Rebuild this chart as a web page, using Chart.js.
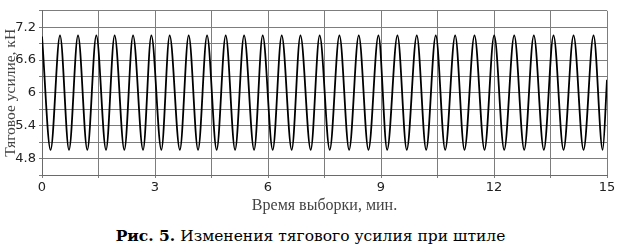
<!DOCTYPE html>
<html>
<head>
<meta charset="utf-8">
<script src="https://cdn.jsdelivr.net/npm/chart.js@4"></script>
<style>
  body { margin: 0; background: #fff; }
  #wrap { position: relative; width: 621px; height: 249px; }
  #box { position: absolute; left: 0; top: 0; width: 621px; height: 215px; }
  #caption {
    position: absolute; left: 0; top: 227px; width: 621px; text-align: center;
    font-family: "DejaVu Serif", serif; font-size: 15.5px; color: #000; line-height: 18px;
  }
</style>
</head>
<body>
<div id="wrap">
  <div id="box"><canvas id="grafico"></canvas></div>
  <div id="caption"><b>Рис. 5.</b> Изменения тягового усилия при штиле</div>
</div>
<script>
// время, мин (пики и впадины)
const tempo = [
  0, 0.228, 0.478, 0.717, 0.956, 1.203, 1.442, 1.700, 1.928, 2.186,
  2.417, 2.683, 2.903, 3.169, 3.389, 3.660, 3.894, 4.143, 4.382, 4.637,
  4.877, 5.126, 5.365, 5.631, 5.859, 6.125, 6.364, 6.629, 6.861, 7.134,
  7.371, 7.639, 7.896, 8.154, 8.409, 8.667, 8.932, 9.163, 9.437, 9.684,
  9.950, 10.199, 10.454, 10.704, 10.969, 11.216, 11.482, 11.748, 12.005, 12.271,
  12.537, 12.802, 13.057, 13.323, 13.580, 13.846, 14.112, 14.377, 14.643, 14.885,
  15
];
// тяговое усилие, кН
const forca = [
  7.03, 4.96, 7.05, 4.96, 7.05, 4.96, 7.05, 4.96, 7.05, 4.96,
  7.05, 4.96, 7.05, 4.96, 7.05, 4.96, 7.05, 4.96, 7.05, 4.96,
  7.05, 4.96, 7.05, 4.96, 7.05, 4.96, 7.05, 4.96, 7.05, 4.96,
  7.05, 4.96, 7.05, 4.96, 7.05, 4.96, 7.05, 4.96, 7.05, 4.96,
  7.05, 4.96, 7.05, 4.96, 7.05, 4.96, 7.05, 4.96, 7.05, 4.96,
  7.05, 4.96, 7.05, 4.96, 7.05, 4.96, 7.05, 4.96, 7.05, 4.96,
  6.24
];
const rotulosX = ['0', '3', '6', '9', '12', '15'];
const rotulosY = ['4.8', '5.4', '6', '6.6', '7.2'];

const pontos = tempo.map(function (t, i) { return { x: t, y: forca[i] }; });

function achaRotulo(lista, v) {
  for (let r of lista) {
    if (Math.abs(parseFloat(r) - v) < 1e-6) return r;
  }
  return '';
}

const corGrade = '#7d7d7d';

const config = {
  type: 'line',
  data: {
    datasets: [{
      data: pontos,
      borderColor: '#000',
      borderWidth: 1.8,
      pointRadius: 0,
      cubicInterpolationMode: 'monotone',
      fill: false
    }]
  },
  options: {
    responsive: true,
    maintainAspectRatio: false,
    animation: false,
    layout: { padding: { top: 5, right: 14, left: 2, bottom: 0 } },
    plugins: { legend: { display: false }, tooltip: { enabled: false } },
    scales: {
      x: {
        type: 'linear',
        min: 0, max: 15,
        afterFit: function (s) { s.height = 40; },
        ticks: {
          stepSize: 1.5,
          autoSkip: false,
          maxRotation: 0,
          padding: 2,
          color: '#222',
          font: { family: 'DejaVu Sans', size: 13 },
          callback: function (v) { return achaRotulo(rotulosX, v); }
        },
        grid: { color: corGrade, tickLength: 3, lineWidth: 1 },
        border: { color: '#6a6a6a' },
        title: {
          display: true,
          text: 'Время выборки, мин.',
          color: '#444',
          font: { family: 'Liberation Serif', size: 16 },
          padding: { top: 0, bottom: 0 }
        }
      },
      y: {
        min: 4.5, max: 7.5,
        afterFit: function (s) { s.width = 40; },
        ticks: {
          stepSize: 0.3,
          autoSkip: false,
          padding: 3,
          color: '#222',
          font: { family: 'DejaVu Sans', size: 13 },
          callback: function (v) { return achaRotulo(rotulosY, v); }
        },
        grid: { color: corGrade, tickLength: 3, lineWidth: 1 },
        border: { color: '#6a6a6a' },
        title: {
          display: true,
          text: 'Тяговое усилие, кН',
          color: '#444',
          font: { family: 'Liberation Serif', size: 15.5 },
          padding: { top: 0, bottom: 0 }
        }
      }
    }
  }
};

new Chart(document.getElementById('grafico'), config);
</script>
</body>
</html>
